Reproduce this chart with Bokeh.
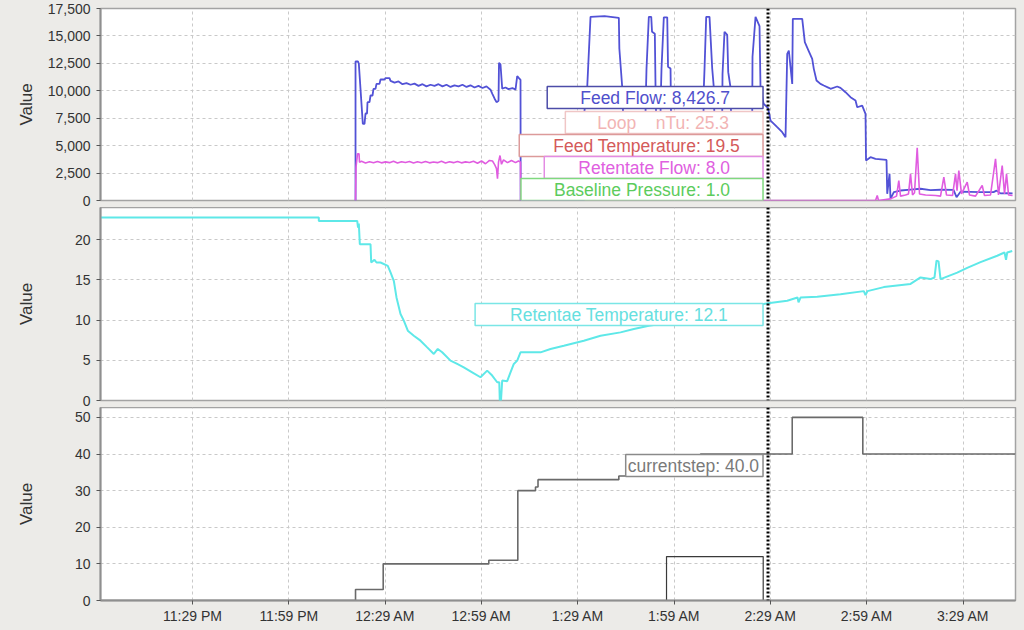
from bokeh.plotting import figure
from bokeh.layouts import column
from bokeh.models import (Range1d, FixedTicker, NumeralTickFormatter, Span, Label,
                          GlobalInlineStyleSheet)
from bokeh.embed import file_html
from bokeh.resources import INLINE

# ---------------- data (time = minutes after 11:00 PM) ----------------
x_start, x_end = 0.35, 285.3
tick_minutes = [29, 59, 89, 119, 149, 179, 209, 239, 269]
tick_labels = ["11:29 PM", "11:59 PM", "12:29 AM", "12:59 AM", "1:29 AM",
               "1:59 AM", "2:29 AM", "2:59 AM", "3:29 AM"]
cursor_minute = 208.23

top_ticks = [0, 2500, 5000, 7500, 10000, 12500, 15000, 17500]
mid_ticks = [0, 5, 10, 15, 20]
bot_ticks = [0, 10, 20, 30, 40, 50]

feed_flow_t = [79.77, 79.77, 80.55, 80.80, 82.04, 82.57, 82.88, 83.35, 83.50, 84.13, 84.44, 85.06,
               85.37, 85.99, 86.30, 87.24, 87.55, 88.79, 89.11, 90.35,
               90.67, 91.92, 93.16, 94.40, 95.65, 96.90, 98.14, 99.38, 100.63, 101.87, 103.12,
               104.37, 105.61, 106.85, 108.10, 109.35, 110.59, 111.84, 113.08, 114.33, 115.57,
               116.82, 118.06, 119.31, 120.55, 121.80,
               122.42, 123.05, 123.67, 124.30, 124.45, 124.92, 125.45, 126.48, 127.41, 128.66,
               129.59, 130.12, 130.53, 131.15, 131.20, 150.90, 151.00,
               151.92, 152.95, 157.32, 161.77, 161.93, 162.83, 163.08,
               170.08, 170.24, 170.39, 171.11, 171.86, 172.11, 172.98, 173.20, 173.36,
               174.75, 174.91, 175.06, 175.78, 176.84, 177.09, 177.87, 178.02,
               188.14, 188.24, 188.46, 188.98, 190.01, 190.85, 191.35, 191.50,
               193.97, 194.06, 194.68, 195.52, 195.84, 196.55, 196.71,
               203.31, 203.40, 204.34, 205.58, 205.89, 206.83, 208.23, 209.01, 211.10, 212.65,
               213.68, 214.21, 214.71, 215.77, 215.95, 218.88, 219.69, 220.84, 221.99, 222.49,
               223.33, 224.57, 225.60, 227.16, 227.69, 229.77, 230.80, 232.36, 233.92, 235.48,
               236.01, 237.56, 238.59, 238.75, 240.15, 241.71, 245.13, 245.35, 246.07, 246.38,
               247.41, 249.49, 252.61, 255.72, 258.83, 261.95, 266.00, 266.94, 268.18, 271.30,
               274.41, 278.46, 279.39, 280.64, 282.82, 284.38]
feed_flow_v = [0, 12670, 12670, 12460, 6990, 6990, 7930, 7930, 8960, 8960, 9570, 9570,
               10180, 10180, 10630, 10630, 11030, 11030, 11150, 11150,
               10900, 10750, 10850, 10600, 10700, 10550, 10650, 10450, 10600, 10400, 10550,
               10450, 10600, 10400, 10550, 10350, 10500, 10400, 10550, 10350, 10500,
               10300, 10450, 10250, 10400, 10100,
               9700, 9300, 8960, 9100, 12550, 12400, 10200, 10300, 10150, 10250,
               10100, 11340, 11200, 11000, 0, 0, 8000,
               10300, 16740, 16800, 16650, 13850, 10300, 8000,
               8000, 10300, 12030, 16740, 16740, 15380, 15200, 10300, 8000,
               8000, 10300, 12030, 16700, 16700, 12190, 12030, 8000,
               8000, 10300, 12030, 16740, 16740, 12030, 10300, 8000,
               8000, 11500, 15380, 15100, 11700, 10300, 8000,
               8000, 13100, 16740, 15900, 10300, 8840, 8427, 7290, 6680, 6230,
               5770, 13370, 13670, 10630, 16560, 16560, 14430, 13670, 12910, 12000,
               10940, 10630, 10480, 10270, 10180, 10390, 10270, 9870, 9420, 9115,
               8500, 8650, 7900, 3650, 3950, 3800, 3700, 610, 2430, 150,
               760, 910, 1000, 1070, 950, 980, 970, 300, 800, 780,
               760, 760, 900, 650, 670, 650]

retentate_flow_t = [79.77, 79.92, 80.39, 80.86, 81.01,
                    81.63, 82.88, 84.12, 85.37, 86.61, 87.86, 89.10, 90.35, 91.60, 92.84, 94.09,
                    95.33, 96.58, 97.82, 99.07, 100.32, 101.56, 102.81, 104.05, 105.30, 106.54,
                    107.79, 109.04, 110.28, 111.53, 112.77, 114.02, 115.26, 116.51, 117.76,
                    119.00, 120.25, 121.49,
                    122.42, 123.05, 123.67, 123.98, 124.30, 124.76, 125.23, 125.85, 127.10,
                    128.34, 129.59, 130.53, 131.15, 131.20, 241.71,
                    242.24, 242.64, 246.38, 248.25, 248.96, 249.49, 251.05, 251.98, 252.61,
                    253.23, 253.85, 254.69, 255.41, 257.28, 260.39, 261.95, 262.98, 263.82,
                    265.69, 266.62, 267.09, 267.65, 268.49, 270.26, 270.98, 272.85, 274.93,
                    275.65, 277.52, 279.08, 280.01, 281.16, 281.88, 282.51, 283.13, 284.38]
retentate_flow_v = [0, 3040, 4250, 4250, 3490,
                    3570, 3420, 3530, 3440, 3560, 3430, 3520, 3450, 3570, 3410, 3540,
                    3460, 3550, 3420, 3530, 3440, 3560, 3430, 3510, 3450, 3570,
                    3420, 3540, 3450, 3560, 3430, 3520, 3460, 3580, 3400,
                    3600, 3350, 3650,
                    3600, 3300, 2900, 1980, 3500, 4100, 3300, 3700, 3450,
                    3650, 3450, 3600, 3500, 0, 0,
                    460, 0, 150, 400, 1820, 400, 500, 600, 2430,
                    500, 700, 4800, 600, 500, 450, 400, 2120, 500,
                    450, 2430, 900, 2730, 600, 1670, 500, 400, 1370,
                    450, 500, 3800, 500, 3190, 600, 2430, 500, 450]

retentae_temp_t = [0.35, 68.34, 68.34, 80.30, 80.55, 80.80, 81.11, 84.44, 84.65, 85.68, 86.30,
                   87.55, 89.82, 90.67, 91.69, 92.53, 93.78, 94.81, 96.05, 97.92, 100.01,
                   102.09, 104.15, 105.39, 106.76, 109.35, 111.43, 113.49, 116.10, 118.69,
                   120.77, 122.33, 123.89, 124.54, 124.70, 125.07, 125.45, 127.00, 128.03,
                   129.06, 130.12, 131.15, 137.38, 140.49, 144.63, 150.86, 156.07, 162.29,
                   166.44, 171.11, 187.21, 199.67, 208.23, 214.21, 217.42, 217.73, 218.35,
                   223.55, 230.80, 238.07, 238.59, 239.21, 244.29, 252.61, 255.72, 258.83,
                   260.08, 260.70, 261.33, 261.95, 267.15, 270.26, 274.41, 279.61, 281.88,
                   282.35, 282.72, 284.28]
retentae_temp_v = [22.75, 22.75, 22.33, 22.33, 21.5, 22.0, 19.44, 19.44, 17.16, 17.5, 17.16,
                   17.16, 16.75, 15.92, 14.89, 12.82, 10.75, 9.93, 8.68, 8.06, 7.44,
                   6.61, 5.79, 6.41, 6.0, 4.96, 4.55, 4.13, 3.51, 2.89,
                   3.72, 3.1, 2.27, 2.27, 0.0, 0.0, 2.48, 2.4, 3.5,
                   4.55, 4.96, 5.99, 5.99, 6.41, 6.82, 7.44, 8.06, 8.47,
                   8.89, 9.3, 10.3, 11.5, 12.1, 12.4, 12.8, 12.2, 12.8,
                   12.9, 13.2, 13.6, 13.1, 13.6, 14.1, 14.5, 15.3, 15.1,
                   15.3, 17.4, 17.3, 15.1, 15.9, 16.5, 17.2, 18.0, 18.4,
                   17.5, 18.4, 18.6]

current_step_t = [0.35, 79.77, 88.39, 121.28, 130.31, 135.82, 136.60, 161.77, 187.21, 215.77, 237.75, 285.3]
current_step_v = [0, 3, 10, 11, 30, 31, 33, 34, 40, 50, 40, 40]

step_b_t = [0.35, 176.62, 206.73, 285.3]
step_b_v = [0, 12, 0, 0]

# ---------------- style ----------------
BG = "#ecebe8"
FONT = "Liberation Sans"
GRID = "#c9c9c9"
AX = "#8f8f8f"
TXT = "#333333"
NB = "\u00a0"

x_range = Range1d(x_start, x_end)


def make_fig(height, y_end, ticks, top_border, bottom_border, with_xaxis):
    p = figure(width=1024, height=height, x_range=x_range, y_range=Range1d(0, y_end),
               output_backend="svg", toolbar_location=None,
               x_axis_location="below" if with_xaxis else None,
               min_border_left=100, min_border_right=9,
               min_border_top=top_border, min_border_bottom=bottom_border)
    p.background_fill_color = "white"
    p.border_fill_color = BG
    p.outline_line_color = "#a3a3a3"
    p.outline_line_width = 1.5
    p.yaxis.ticker = FixedTicker(ticks=ticks)
    p.yaxis.axis_label = "Value"
    p.yaxis.axis_label_text_font = FONT
    p.yaxis.axis_label_text_font_size = "17px"
    p.yaxis.axis_label_text_font_style = "normal"
    p.yaxis.axis_label_text_color = TXT
    p.yaxis.major_label_text_font = FONT
    p.yaxis.major_label_text_font_size = "14px"
    p.yaxis.major_label_text_color = TXT
    p.yaxis.major_label_standoff = 6
    p.yaxis.major_tick_out = 4
    p.yaxis.major_tick_in = 0
    p.yaxis.minor_tick_out = 0
    p.yaxis.minor_tick_in = 0
    p.yaxis.axis_line_color = AX
    p.yaxis.axis_line_width = 2
    p.yaxis.major_tick_line_color = "#555555"
    p.xgrid.ticker = FixedTicker(ticks=tick_minutes)
    p.ygrid.ticker = FixedTicker(ticks=ticks)
    for g in (p.xgrid, p.ygrid):
        g.grid_line_color = GRID
        g.grid_line_dash = "3 3"
        g.grid_line_width = 1
    if with_xaxis:
        p.xaxis.ticker = FixedTicker(ticks=tick_minutes)
        p.xaxis.major_label_overrides = {m: s for m, s in zip(tick_minutes, tick_labels)}
        p.xaxis.major_label_text_font = FONT
        p.xaxis.major_label_text_font_size = "14px"
        p.xaxis.major_label_text_color = TXT
        p.xaxis.major_label_standoff = 3
        p.xaxis.major_tick_out = 4
        p.xaxis.major_tick_in = 0
        p.xaxis.minor_tick_out = 0
        p.xaxis.minor_tick_in = 0
        p.xaxis.axis_line_color = AX
        p.xaxis.axis_line_width = 2
        p.xaxis.major_tick_line_color = "#555555"
    cursor = Span(location=cursor_minute, dimension="height", line_color="black",
                  line_width=3, line_dash="2 2")
    p.add_layout(cursor)
    return p


def tip(p, text, y_screen, color, border, pad_l, pad_r):
    lab = Label(x=cursor_minute, y=y_screen, x_units="data", y_units="screen",
                text=text, x_offset=-5, text_align="right", text_baseline="middle",
                text_font=FONT, text_font_size="17.5px", text_color=color,
                background_fill_color="white", border_line_color=border,
                border_line_width=1.5,
                padding=dict(left=pad_l, right=pad_r, top=1, bottom=1))
    p.add_layout(lab)


# top panel
p1 = make_fig(207, 17500, top_ticks, 8, 7, False)
p1.yaxis.formatter = NumeralTickFormatter(format="0,0")
p1.yaxis.axis_label_standoff = 9
p1.line(feed_flow_t, feed_flow_v, line_color="#5252d6", line_width=1.8)
p1.line(retentate_flow_t, retentate_flow_v, line_color="#e05ce0", line_width=1.6)
tip(p1, "Feed Flow: 8,426.7", 103, "#5050cc", "#4c4ca8", 33, 33)
tip(p1, "Loop" + NB * 4 + "nTu: 25.3", 78, "#f2b4b4", "#f0c6c6", 32, 34)
tip(p1, "Feed Temperature: 19.5", 55, "#d45a5a", "#dc9a9a", 34, 23)
tip(p1, "Retentate Flow: 8.0", 33, "#e060e0", "#e38ce3", 34, 33)
tip(p1, "Baseline Pressure: 1.0", 11, "#5ccc5c", "#7fd97f", 33, 33)

# middle panel
p2 = make_fig(200, 24, mid_ticks, 0, 7, False)
p2.yaxis.axis_label_standoff = 36
p2.line(retentae_temp_t, retentae_temp_v, line_color="#5ee8e8", line_width=2)
tip(p2, "Retentae Temperature: 12.1", 86, "#66e0e0", "#7ae6e6", 35, 35)

# bottom panel
p3 = make_fig(223, 52.7, bot_ticks, 0, 30, True)
p3.yaxis.axis_label_standoff = 36
p3.step(step_b_t, step_b_v, mode="after", line_color="#3a3a3a", line_width=1.2)
p3.step(current_step_t, current_step_v, mode="after", line_color="#6a6a6a", line_width=1.6)
tip(p3, "currentstep: 40.0", 135, "#7a7a7a", "#8a8a8a", 2, 4)

layout = column(p1, p2, p3)
layout.stylesheets = [GlobalInlineStyleSheet(css="html, body { background-color: %s; }" % BG)]

open("out.html", "w").write(file_html(layout, INLINE))
